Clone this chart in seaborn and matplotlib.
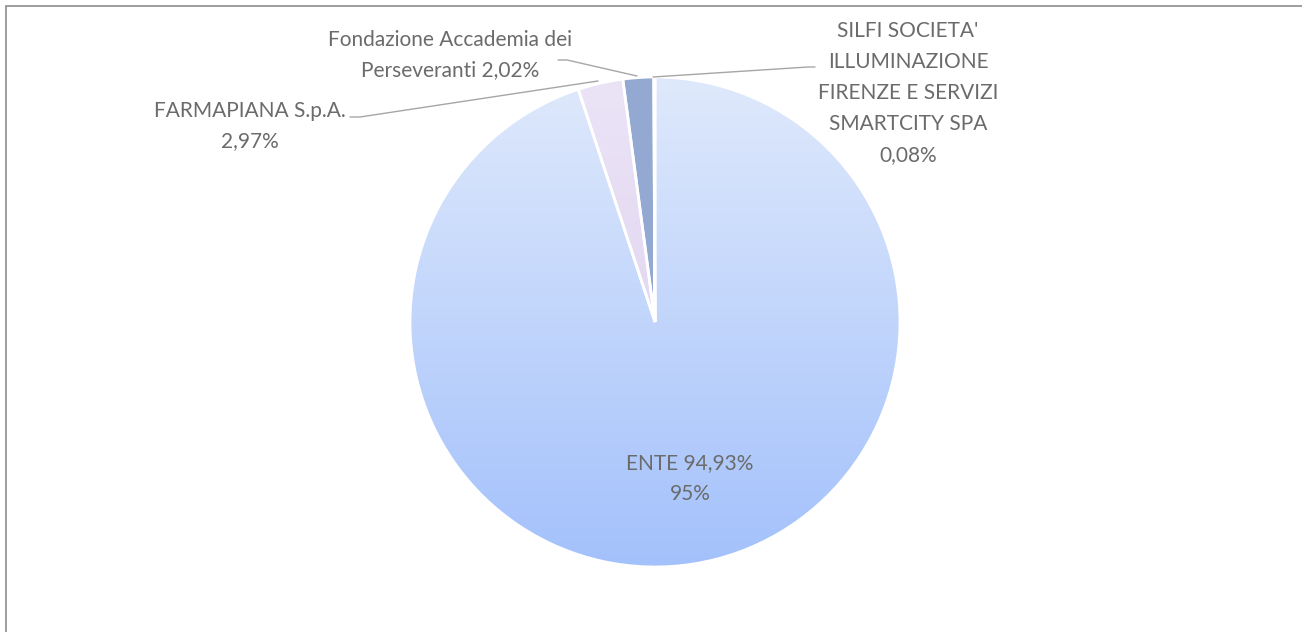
import matplotlib.pyplot as plt
import numpy as np
import seaborn as sns
from matplotlib.patches import Rectangle
from matplotlib.colors import LinearSegmentedColormap

# dati
categories = ["ENTE", "FARMAPIANA S.p.A.", "Fondazione Accademia dei Perseveranti",
              "SILFI SOCIETA' ILLUMINAZIONE FIRENZE E SERVIZI SMARTCITY SPA"]
shares = [94.93, 2.97, 2.02, 0.08]
label_texts = [
    "ENTE 94,93%\n95%",
    "FARMAPIANA S.p.A.\n2,97%",
    "Fondazione Accademia dei\nPerseveranti 2,02%",
    "SILFI SOCIETA'\nILLUMINAZIONE\nFIRENZE E SERVIZI\nSMARTCITY SPA\n0,08%",
]
# gradienti (alto -> basso)
grad_top = ["#dfe9fc", "#ebe4f6", "#94a9d2", "#7f93c0"]
grad_bottom = ["#a3c1fb", "#dacbee", "#94a9d2", "#7f93c0"]

W, H = 1302, 632
sns.set_theme(style="white")
plt.rcParams['font.family'] = ['Lato', 'DejaVu Sans']

fig = plt.figure(figsize=(W / 100, H / 100), dpi=100)
ax = fig.add_axes([0, 0, 1, 1])

cx, cy, r = 655, H - 322, 245
wedges, _ = ax.pie(shares, startangle=90, counterclock=False, center=(cx, cy),
                   radius=r, frame=True,
                   wedgeprops=dict(edgecolor="white", linewidth=2))
ax.set_xlim(0, W)
ax.set_ylim(0, H)
ax.set_aspect("equal")
ax.axis("off")

for w, c0, c1 in zip(wedges, grad_top, grad_bottom):
    cmap = LinearSegmentedColormap.from_list("g", [c0, c1])
    grad = np.linspace(0, 1, 256).reshape(-1, 1)
    im = ax.imshow(grad, cmap=cmap, aspect="auto", origin="upper",
                   extent=(cx - r, cx + r, cy - r, cy + r), zorder=1)
    im.set_clip_path(w)
    w.set_facecolor("none")
    w.set_zorder(2)

txt = dict(color="#6b6b6b", fontsize=15, ha="center", va="center", linespacing=1.68)
ax.text(690, H - 479, label_texts[0], **txt)
ax.text(250, H - 126, label_texts[1], **txt)
ax.text(450, H - 55, label_texts[2], **txt)
ax.text(908, H - 93, label_texts[3], **txt)

lc = dict(color="#a6a6a6", lw=1, zorder=3)
ax.plot([350, 360, 598], [H - 117, H - 117, H - 81], **lc)
ax.plot([558, 567, 637], [H - 60, H - 60, H - 76], **lc)
ax.plot([653, 808, 815], [H - 77, H - 67, H - 67], **lc)

ax.add_patch(Rectangle((5.5, -20), W + 40, H - 6 + 20, fill=False,
                       edgecolor="#8c8c8c", lw=1.2, zorder=4, clip_on=False))

fig.savefig("out.png", dpi=100)
plt.close(fig)
